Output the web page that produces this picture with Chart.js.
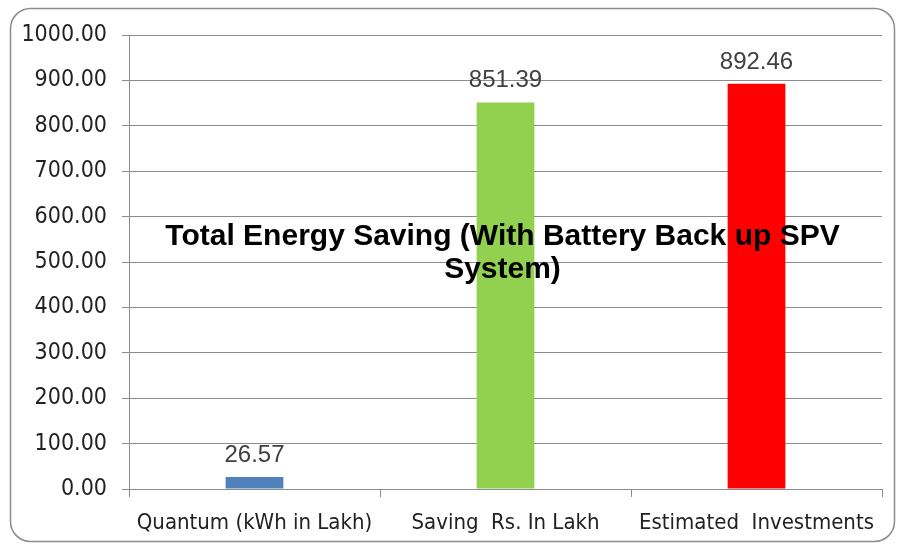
<!DOCTYPE html>
<html><head><meta charset="utf-8">
<script src="https://cdn.jsdelivr.net/npm/chart.js@4.4.0/dist/chart.umd.min.js"></script>
<style>html,body{margin:0;padding:0;background:#fff;}#wrap{width:899px;height:548px;position:relative;}</style>
</head><body><div id="wrap"><canvas id="c" width="899" height="548"></canvas></div>
<script>
const categories = ["Quantum (kWh in Lakh)", "Saving  Rs. In Lakh", "Estimated  Investments"];
const values = [26.57, 851.39, 892.46];
const barColors = ["#4F81BD", "#92D050", "#FF0000"];
const titleLines = ["Total Energy Saving (With Battery Back up SPV", "System)"];
const yMin = 0, yMax = 1000, yStep = 100;

const frame = {
  id: 'frame',
  beforeDraw(chart) {
    const ctx = chart.ctx;
    ctx.save();
    ctx.fillStyle = '#fff';
    ctx.fillRect(0, 0, chart.width, chart.height);
    ctx.strokeStyle = '#8c8c8c';
    ctx.lineWidth = 1.5;
    ctx.beginPath();
    ctx.roundRect(10.5, 8.5, 884, 533, 20);
    ctx.stroke();
    ctx.restore();
  }
};
const labelsPlugin = {
  id: 'vals',
  afterDatasetsDraw(chart) {
    const ctx = chart.ctx;
    const meta = chart.getDatasetMeta(0);
    ctx.save();
    ctx.font = '24px "Liberation Sans", Arial, sans-serif';
    ctx.fillStyle = '#404040';
    ctx.textAlign = 'center';
    ctx.textBaseline = 'alphabetic';
    meta.data.forEach((bar, i) => {
      ctx.fillText(values[i].toFixed(2), bar.x, bar.y - 15);
    });
    // title overlay
    const a = chart.chartArea;
    const cx = (a.left + a.right) / 2 - 3;
    ctx.font = 'bold 30px "Liberation Sans", Arial, sans-serif';
    ctx.fillStyle = '#000';
    ctx.textBaseline = 'middle';
    ctx.fillText(titleLines[0], cx, 237);
    ctx.fillText(titleLines[1], cx, 270);
    ctx.restore();
  }
};

new Chart(document.getElementById('c'), {
  type: 'bar',
  data: {
    labels: categories,
    datasets: [{ data: values, backgroundColor: barColors, borderWidth: 0,
      barPercentage: 0.23, categoryPercentage: 1 }]
  },
  options: {
    responsive: false,
    animation: false,
    layout: { padding: { left: 0, top: 35, right: 17, bottom: 0 } },
    plugins: { legend: { display: false }, tooltip: { enabled: false }, title: { display: false } },
    scales: {
      x: {
        afterFit(s) { s.height = 59; },
        grid: { drawOnChartArea: false, drawTicks: true, tickLength: 8, offset: true, color: '#8c8c8c', lineWidth: 1 },
        border: { display: true, color: '#8c8c8c', width: 1 },
        ticks: { color: '#222', padding: 13, font: { family: '"DejaVu Sans Condensed", "DejaVu Sans", sans-serif', size: 22 } }
      },
      y: {
        min: yMin, max: yMax,
        afterFit(s) { s.width = 129; },
        grid: { color: '#8c8c8c', lineWidth: 1, tickLength: 7 },
        border: { display: true, color: '#8c8c8c', width: 1 },
        ticks: { stepSize: yStep, color: '#222', padding: 15,
          font: { family: '"DejaVu Sans Condensed", "DejaVu Sans", sans-serif', size: 23 },
          callback: v => Number(v).toFixed(2) }
      }
    }
  },
  plugins: [frame, labelsPlugin]
});
</script></body></html>
